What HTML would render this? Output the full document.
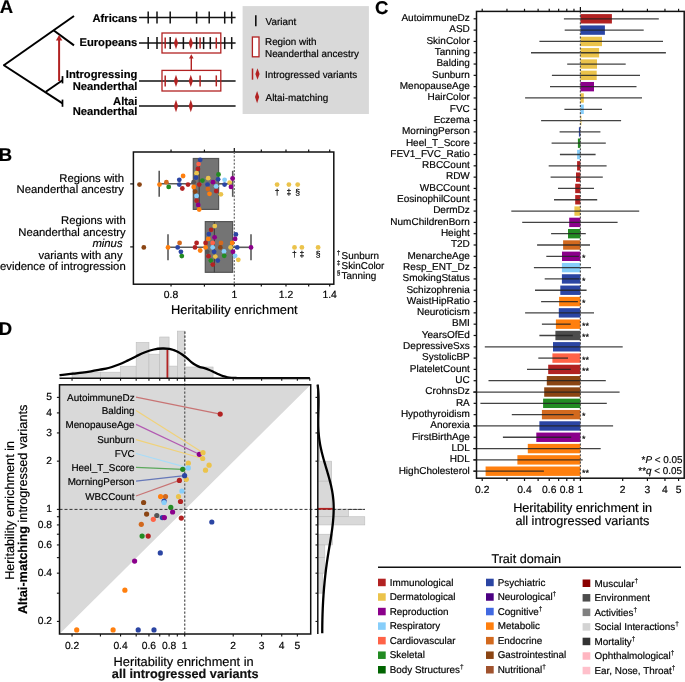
<!DOCTYPE html>
<html><head><meta charset="utf-8"><style>
html,body{margin:0;padding:0;background:#fff;width:685px;height:682px;overflow:hidden}
svg{display:block;font-family:"Liberation Sans",sans-serif;text-rendering:geometricPrecision;will-change:transform}
text{stroke:currentColor;stroke-width:0.18px}
</style></head><body>
<svg width="685" height="682" viewBox="0 0 685 682">
<text x="-0.30" y="13.20" font-size="18.5" text-anchor="start" font-weight="bold" font-style="normal" fill="#000" >A</text>
<line x1="3.50" y1="65.50" x2="74.00" y2="16.00" stroke="#000" stroke-width="2" />
<line x1="53.50" y1="30.30" x2="74.00" y2="45.40" stroke="#000" stroke-width="2" />
<line x1="3.50" y1="65.00" x2="62.50" y2="103.30" stroke="#000" stroke-width="2" />
<line x1="45.80" y1="91.80" x2="62.50" y2="80.20" stroke="#000" stroke-width="2" />
<line x1="62.50" y1="76.10" x2="62.50" y2="83.40" stroke="#000" stroke-width="1.7" />
<line x1="62.50" y1="99.60" x2="62.50" y2="106.80" stroke="#000" stroke-width="1.7" />
<line x1="59.10" y1="81.00" x2="59.10" y2="39.00" stroke="#b22222" stroke-width="2.0" />
<path d="M55.9 40.4 L59.1 35 L62.3 40.4 Z" fill="#b22222"/>
<text x="137.30" y="22.00" font-size="11.2" text-anchor="end" font-weight="bold" font-style="normal" fill="#000" >Africans</text>
<text x="137.30" y="45.80" font-size="11.2" text-anchor="end" font-weight="bold" font-style="normal" fill="#000" >Europeans</text>
<text x="137.30" y="78.20" font-size="11.2" text-anchor="end" font-weight="bold" font-style="normal" fill="#000" >Introgressing</text>
<text x="137.30" y="89.80" font-size="11.2" text-anchor="end" font-weight="bold" font-style="normal" fill="#000" >Neanderthal</text>
<text x="137.30" y="105.00" font-size="11.2" text-anchor="end" font-weight="bold" font-style="normal" fill="#000" >Altai</text>
<text x="137.30" y="114.70" font-size="11.2" text-anchor="end" font-weight="bold" font-style="normal" fill="#000" >Neanderthal</text>
<line x1="139.00" y1="17.60" x2="235.60" y2="17.60" stroke="#111" stroke-width="1.5" />
<line x1="139.00" y1="43.10" x2="235.60" y2="43.10" stroke="#111" stroke-width="1.5" />
<line x1="139.00" y1="80.90" x2="235.60" y2="80.90" stroke="#111" stroke-width="1.5" />
<line x1="139.00" y1="106.00" x2="235.60" y2="106.00" stroke="#111" stroke-width="1.5" />
<line x1="148.20" y1="11.60" x2="148.20" y2="23.60" stroke="#111" stroke-width="1.5" />
<line x1="157.00" y1="11.60" x2="157.00" y2="23.60" stroke="#111" stroke-width="1.5" />
<line x1="170.20" y1="11.60" x2="170.20" y2="23.60" stroke="#111" stroke-width="1.5" />
<line x1="196.60" y1="11.60" x2="196.60" y2="23.60" stroke="#111" stroke-width="1.5" />
<line x1="209.20" y1="11.60" x2="209.20" y2="23.60" stroke="#111" stroke-width="1.5" />
<line x1="224.70" y1="11.60" x2="224.70" y2="23.60" stroke="#111" stroke-width="1.5" />
<line x1="231.70" y1="11.60" x2="231.70" y2="23.60" stroke="#111" stroke-width="1.5" />
<line x1="148.20" y1="37.10" x2="148.20" y2="49.10" stroke="#111" stroke-width="1.5" />
<line x1="157.00" y1="37.10" x2="157.00" y2="49.10" stroke="#111" stroke-width="1.5" />
<line x1="170.20" y1="37.10" x2="170.20" y2="49.10" stroke="#111" stroke-width="1.5" />
<line x1="183.40" y1="37.10" x2="183.40" y2="49.10" stroke="#111" stroke-width="1.5" />
<line x1="196.60" y1="37.10" x2="196.60" y2="49.10" stroke="#111" stroke-width="1.5" />
<line x1="203.60" y1="37.10" x2="203.60" y2="49.10" stroke="#111" stroke-width="1.5" />
<line x1="210.30" y1="37.10" x2="210.30" y2="49.10" stroke="#111" stroke-width="1.5" />
<line x1="224.70" y1="37.10" x2="224.70" y2="49.10" stroke="#111" stroke-width="1.5" />
<line x1="231.70" y1="37.10" x2="231.70" y2="49.10" stroke="#111" stroke-width="1.5" />
<rect x="162" y="33" width="58.8" height="20" fill="none" stroke="#b22222" stroke-width="1.3"/>
<rect x="162" y="70.4" width="58.8" height="20.6" fill="none" stroke="#b22222" stroke-width="1.3"/>
<line x1="165.20" y1="37.60" x2="165.20" y2="48.60" stroke="#b22222" stroke-width="1.5" />
<line x1="200.10" y1="37.60" x2="200.10" y2="48.60" stroke="#b22222" stroke-width="1.5" />
<line x1="216.30" y1="37.60" x2="216.30" y2="48.60" stroke="#b22222" stroke-width="1.5" />
<path d="M176.00 36.90 L178.10 43.10 L176.00 49.30 L173.90 43.10Z" fill="#b22222"/>
<path d="M190.80 36.90 L192.90 43.10 L190.80 49.30 L188.70 43.10Z" fill="#b22222"/>
<line x1="165.20" y1="75.40" x2="165.20" y2="86.40" stroke="#b22222" stroke-width="1.5" />
<line x1="200.10" y1="75.40" x2="200.10" y2="86.40" stroke="#b22222" stroke-width="1.5" />
<line x1="216.30" y1="75.40" x2="216.30" y2="86.40" stroke="#b22222" stroke-width="1.5" />
<path d="M176.00 74.70 L178.10 80.90 L176.00 87.10 L173.90 80.90Z" fill="#b22222"/>
<path d="M190.80 74.70 L192.90 80.90 L190.80 87.10 L188.70 80.90Z" fill="#b22222"/>
<path d="M176.00 99.80 L178.10 106.00 L176.00 112.20 L173.90 106.00Z" fill="#b22222"/>
<path d="M190.80 99.80 L192.90 106.00 L190.80 112.20 L188.70 106.00Z" fill="#b22222"/>
<line x1="191.30" y1="70.40" x2="191.30" y2="57.50" stroke="#b22222" stroke-width="1.4" />
<path d="M189 58.6 L191.3 54.2 L193.6 58.6 Z" fill="#b22222"/>
<rect x="242.60" y="6.10" width="126.30" height="107.90" fill="#d9d9d9" />
<line x1="255.80" y1="15.30" x2="255.80" y2="26.20" stroke="#111" stroke-width="1.6" />
<text x="265.60" y="25.30" font-size="9.9" text-anchor="start" font-weight="normal" font-style="normal" fill="#000" >Variant</text>
<rect x="252.4" y="37" width="6.6" height="19.8" fill="#fff" stroke="#b22222" stroke-width="1.3"/>
<text x="265.00" y="44.60" font-size="9.9" text-anchor="start" font-weight="normal" font-style="normal" fill="#000" >Region with</text>
<text x="265.00" y="56.90" font-size="9.9" text-anchor="start" font-weight="normal" font-style="normal" fill="#000" >Neanderthal ancestry</text>
<line x1="252.50" y1="68.50" x2="252.50" y2="79.70" stroke="#b22222" stroke-width="1.5" />
<path d="M257.50 68.35 L259.60 74.10 L257.50 79.85 L255.40 74.10Z" fill="#b22222"/>
<text x="265.00" y="78.40" font-size="9.9" text-anchor="start" font-weight="normal" font-style="normal" fill="#000" >Introgressed variants</text>
<path d="M257.10 91.00 L259.20 97.10 L257.10 103.20 L255.00 97.10Z" fill="#b22222"/>
<text x="265.60" y="101.20" font-size="9.9" text-anchor="start" font-weight="normal" font-style="normal" fill="#000" >Altai-matching</text>
<text x="-1.30" y="160.80" font-size="18.5" text-anchor="start" font-weight="bold" font-style="normal" fill="#000" >B</text>
<text x="124.00" y="181.60" font-size="11.3" text-anchor="end" font-weight="normal" font-style="normal" fill="#000" >Regions with</text>
<text x="124.00" y="193.20" font-size="11.3" text-anchor="end" font-weight="normal" font-style="normal" fill="#000" >Neanderthal ancestry</text>
<text x="125.70" y="224.20" font-size="11.3" text-anchor="end" font-weight="normal" font-style="normal" fill="#000" >Regions with</text>
<text x="125.70" y="236.00" font-size="11.3" text-anchor="end" font-weight="normal" font-style="normal" fill="#000" >Neanderthal ancestry</text>
<text x="125.70" y="247.30" font-size="11.3" text-anchor="end" font-weight="normal" font-style="italic" fill="#000" >minus&#160;</text>
<text x="125.70" y="259.00" font-size="11.3" text-anchor="end" font-weight="normal" font-style="normal" fill="#000" >variants with any&#160;</text>
<text x="125.70" y="269.80" font-size="11.3" text-anchor="end" font-weight="normal" font-style="normal" fill="#000" >evidence of introgression</text>
<rect x="133.4" y="152" width="200.4" height="132.2" fill="none" stroke="#111" stroke-width="1.5"/>
<line x1="234.30" y1="152.00" x2="234.30" y2="284.00" stroke="#666" stroke-width="1.2" stroke-dasharray="2 1.6"/>
<line x1="171.04" y1="149.60" x2="171.04" y2="152.00" stroke="#111" stroke-width="1.2" />
<line x1="171.04" y1="284.00" x2="171.04" y2="286.60" stroke="#111" stroke-width="1.2" />
<line x1="204.43" y1="149.60" x2="204.43" y2="152.00" stroke="#111" stroke-width="1.2" />
<line x1="204.43" y1="284.00" x2="204.43" y2="286.60" stroke="#111" stroke-width="1.2" />
<line x1="234.30" y1="148.00" x2="234.30" y2="152.00" stroke="#111" stroke-width="1.2" />
<line x1="234.30" y1="284.00" x2="234.30" y2="286.60" stroke="#111" stroke-width="1.2" />
<line x1="261.32" y1="149.60" x2="261.32" y2="152.00" stroke="#111" stroke-width="1.2" />
<line x1="261.32" y1="284.00" x2="261.32" y2="286.60" stroke="#111" stroke-width="1.2" />
<line x1="285.99" y1="149.60" x2="285.99" y2="152.00" stroke="#111" stroke-width="1.2" />
<line x1="285.99" y1="284.00" x2="285.99" y2="286.60" stroke="#111" stroke-width="1.2" />
<line x1="308.68" y1="149.60" x2="308.68" y2="152.00" stroke="#111" stroke-width="1.2" />
<line x1="308.68" y1="284.00" x2="308.68" y2="286.60" stroke="#111" stroke-width="1.2" />
<line x1="329.69" y1="149.60" x2="329.69" y2="152.00" stroke="#111" stroke-width="1.2" />
<line x1="329.69" y1="284.00" x2="329.69" y2="286.60" stroke="#111" stroke-width="1.2" />
<line x1="130.20" y1="183.90" x2="133.40" y2="183.90" stroke="#111" stroke-width="1.2" />
<line x1="130.20" y1="246.90" x2="133.40" y2="246.90" stroke="#111" stroke-width="1.2" />
<text x="171.04" y="298.20" font-size="10.4" text-anchor="middle" font-weight="normal" font-style="normal" fill="#000" >0.8</text>
<text x="234.30" y="298.20" font-size="10.4" text-anchor="middle" font-weight="normal" font-style="normal" fill="#000" >1</text>
<text x="285.99" y="298.20" font-size="10.4" text-anchor="middle" font-weight="normal" font-style="normal" fill="#000" >1.2</text>
<text x="329.69" y="298.20" font-size="10.4" text-anchor="middle" font-weight="normal" font-style="normal" fill="#000" >1.4</text>
<text x="234.30" y="313.90" font-size="12.8" text-anchor="middle" font-weight="normal" font-style="normal" fill="#000" >Heritability enrichment</text>
<text x="336.80" y="255.00" font-size="6.6" text-anchor="start" font-weight="normal" font-style="normal" fill="#000" >&#8224;</text>
<text x="341.60" y="259.00" font-size="9.9" text-anchor="start" font-weight="normal" font-style="normal" fill="#000" >Sunburn</text>
<text x="336.80" y="264.80" font-size="6.6" text-anchor="start" font-weight="normal" font-style="normal" fill="#000" >&#8225;</text>
<text x="341.60" y="268.80" font-size="9.9" text-anchor="start" font-weight="normal" font-style="normal" fill="#000" >SkinColor</text>
<text x="336.80" y="274.70" font-size="6.6" text-anchor="start" font-weight="normal" font-style="normal" fill="#000" >&#167;</text>
<text x="341.60" y="278.70" font-size="9.9" text-anchor="start" font-weight="normal" font-style="normal" fill="#000" >Tanning</text>
<rect x="193.30" y="158.50" width="25.30" height="50.90" fill="#747474" stroke="#555" stroke-width="1.2"/>
<line x1="199.20" y1="158.50" x2="199.20" y2="209.40" stroke="#444" stroke-width="1.2" />
<line x1="159.20" y1="183.80" x2="193.30" y2="183.80" stroke="#5a5a5a" stroke-width="1.6" />
<line x1="218.60" y1="183.80" x2="232.70" y2="183.80" stroke="#5a5a5a" stroke-width="1.6" />
<line x1="159.20" y1="170.80" x2="159.20" y2="196.80" stroke="#5a5a5a" stroke-width="1.6" />
<line x1="232.70" y1="170.80" x2="232.70" y2="196.80" stroke="#5a5a5a" stroke-width="1.6" />
<rect x="205.30" y="221.60" width="27.30" height="50.70" fill="#747474" stroke="#555" stroke-width="1.2"/>
<line x1="214.40" y1="221.60" x2="214.40" y2="272.30" stroke="#444" stroke-width="1.2" />
<line x1="168.00" y1="247.30" x2="205.30" y2="247.30" stroke="#5a5a5a" stroke-width="1.6" />
<line x1="232.60" y1="247.30" x2="251.00" y2="247.30" stroke="#5a5a5a" stroke-width="1.6" />
<line x1="168.00" y1="234.30" x2="168.00" y2="260.30" stroke="#5a5a5a" stroke-width="1.6" />
<line x1="251.00" y1="234.30" x2="251.00" y2="260.30" stroke="#5a5a5a" stroke-width="1.6" />
<circle cx="139.50" cy="184.60" r="2.4" fill="#8b4513"/>
<circle cx="159.50" cy="184.60" r="2.4" fill="#ff7f0e"/>
<circle cx="166.40" cy="182.20" r="2.4" fill="#d2691e"/>
<circle cx="168.70" cy="186.90" r="2.4" fill="#228b22"/>
<circle cx="179.30" cy="179.80" r="2.4" fill="#2b45a3"/>
<circle cx="183.10" cy="176.00" r="2.4" fill="#ff7f0e"/>
<circle cx="179.30" cy="184.60" r="2.4" fill="#2b45a3"/>
<circle cx="182.30" cy="188.50" r="2.4" fill="#b22222"/>
<circle cx="188.00" cy="184.60" r="2.4" fill="#b22222"/>
<circle cx="193.60" cy="182.20" r="2.4" fill="#555555"/>
<circle cx="193.70" cy="187.00" r="2.4" fill="#ff7f0e"/>
<circle cx="195.20" cy="191.70" r="2.4" fill="#8b4513"/>
<circle cx="196.60" cy="196.00" r="2.4" fill="#87cefa"/>
<circle cx="196.60" cy="200.70" r="2.4" fill="#b22222"/>
<circle cx="198.20" cy="205.00" r="2.4" fill="#8b008b"/>
<circle cx="199.20" cy="209.50" r="2.4" fill="#ff7f0e"/>
<circle cx="200.20" cy="159.80" r="2.4" fill="#2b45a3"/>
<circle cx="198.60" cy="164.10" r="2.4" fill="#ff6347"/>
<circle cx="197.90" cy="168.90" r="2.4" fill="#b22222"/>
<circle cx="196.60" cy="173.20" r="2.4" fill="#ebc34b"/>
<circle cx="196.00" cy="177.70" r="2.4" fill="#2b45a3"/>
<circle cx="199.20" cy="184.60" r="2.4" fill="#b22222"/>
<circle cx="202.40" cy="180.60" r="2.4" fill="#228b22"/>
<circle cx="208.20" cy="178.20" r="2.4" fill="#ebc34b"/>
<circle cx="207.50" cy="184.60" r="2.4" fill="#2b45a3"/>
<circle cx="207.90" cy="189.00" r="2.4" fill="#d2691e"/>
<circle cx="209.50" cy="193.80" r="2.4" fill="#ff7f0e"/>
<circle cx="213.00" cy="182.20" r="2.4" fill="#8b008b"/>
<circle cx="218.50" cy="174.50" r="2.4" fill="#228b22"/>
<circle cx="218.10" cy="179.30" r="2.4" fill="#2b45a3"/>
<circle cx="216.20" cy="186.30" r="2.4" fill="#87cefa"/>
<circle cx="216.20" cy="191.10" r="2.4" fill="#b22222"/>
<circle cx="220.90" cy="194.30" r="2.4" fill="#ebc34b"/>
<circle cx="224.60" cy="179.80" r="2.4" fill="#87cefa"/>
<circle cx="224.60" cy="184.60" r="2.4" fill="#2b45a3"/>
<circle cx="229.70" cy="182.60" r="2.4" fill="#ebc34b"/>
<circle cx="232.60" cy="178.50" r="2.4" fill="#8b008b"/>
<circle cx="231.00" cy="186.90" r="2.4" fill="#8b008b"/>
<circle cx="277.10" cy="184.60" r="2.4" fill="#ebc34b"/>
<circle cx="288.90" cy="184.60" r="2.4" fill="#ebc34b"/>
<circle cx="297.70" cy="184.60" r="2.4" fill="#ebc34b"/>
<circle cx="143.80" cy="247.40" r="2.4" fill="#8b4513"/>
<circle cx="168.00" cy="247.40" r="2.4" fill="#ff7f0e"/>
<circle cx="179.60" cy="242.90" r="2.4" fill="#d2691e"/>
<circle cx="177.70" cy="247.40" r="2.4" fill="#2b45a3"/>
<circle cx="180.90" cy="251.80" r="2.4" fill="#2b45a3"/>
<circle cx="181.80" cy="256.10" r="2.4" fill="#228b22"/>
<circle cx="196.60" cy="242.90" r="2.4" fill="#b22222"/>
<circle cx="195.00" cy="247.40" r="2.4" fill="#b22222"/>
<circle cx="200.20" cy="250.50" r="2.4" fill="#ff7f0e"/>
<circle cx="205.60" cy="242.90" r="2.4" fill="#b22222"/>
<circle cx="205.60" cy="247.40" r="2.4" fill="#ff7f0e"/>
<circle cx="207.40" cy="251.80" r="2.4" fill="#555555"/>
<circle cx="208.30" cy="238.90" r="2.4" fill="#ff7f0e"/>
<circle cx="208.80" cy="234.10" r="2.4" fill="#2b45a3"/>
<circle cx="211.10" cy="229.80" r="2.4" fill="#b22222"/>
<circle cx="214.80" cy="226.10" r="2.4" fill="#ebc34b"/>
<circle cx="214.60" cy="237.30" r="2.4" fill="#8b008b"/>
<circle cx="212.70" cy="242.90" r="2.4" fill="#ff6347"/>
<circle cx="212.70" cy="247.40" r="2.4" fill="#87cefa"/>
<circle cx="214.10" cy="251.80" r="2.4" fill="#2b45a3"/>
<circle cx="215.30" cy="256.60" r="2.4" fill="#ebc34b"/>
<circle cx="208.50" cy="256.20" r="2.4" fill="#b22222"/>
<circle cx="210.80" cy="260.60" r="2.4" fill="#228b22"/>
<circle cx="217.80" cy="260.60" r="2.4" fill="#2b45a3"/>
<circle cx="212.80" cy="264.60" r="2.4" fill="#b22222"/>
<circle cx="221.00" cy="242.90" r="2.4" fill="#d2691e"/>
<circle cx="220.30" cy="247.40" r="2.4" fill="#8b4513"/>
<circle cx="224.00" cy="251.40" r="2.4" fill="#87cefa"/>
<circle cx="224.20" cy="255.80" r="2.4" fill="#228b22"/>
<circle cx="232.20" cy="242.90" r="2.4" fill="#ff7f0e"/>
<circle cx="230.60" cy="247.40" r="2.4" fill="#ebc34b"/>
<circle cx="233.00" cy="251.80" r="2.4" fill="#8b008b"/>
<circle cx="235.10" cy="255.80" r="2.4" fill="#87cefa"/>
<circle cx="235.90" cy="234.40" r="2.4" fill="#2b45a3"/>
<circle cx="235.10" cy="238.90" r="2.4" fill="#8b008b"/>
<circle cx="237.20" cy="247.40" r="2.4" fill="#2b45a3"/>
<circle cx="238.30" cy="259.80" r="2.4" fill="#ebc34b"/>
<circle cx="251.00" cy="247.40" r="2.4" fill="#8b008b"/>
<circle cx="294.50" cy="247.40" r="2.4" fill="#ebc34b"/>
<circle cx="301.90" cy="247.40" r="2.4" fill="#ebc34b"/>
<circle cx="318.10" cy="247.40" r="2.4" fill="#ebc34b"/>
<text x="277.10" y="194.80" font-size="8.6" text-anchor="middle" font-weight="normal" font-style="normal" fill="#000" >&#8224;</text>
<text x="288.90" y="194.80" font-size="8.6" text-anchor="middle" font-weight="normal" font-style="normal" fill="#000" >&#8225;</text>
<text x="297.70" y="194.80" font-size="8.6" text-anchor="middle" font-weight="normal" font-style="normal" fill="#000" >&#167;</text>
<text x="294.50" y="257.40" font-size="8.6" text-anchor="middle" font-weight="normal" font-style="normal" fill="#000" >&#8224;</text>
<text x="301.90" y="257.40" font-size="8.6" text-anchor="middle" font-weight="normal" font-style="normal" fill="#000" >&#8225;</text>
<text x="318.10" y="257.40" font-size="8.6" text-anchor="middle" font-weight="normal" font-style="normal" fill="#000" >&#167;</text>
<text x="375.00" y="13.50" font-size="18.5" text-anchor="start" font-weight="bold" font-style="normal" fill="#000" >C</text>
<rect x="580.40" y="14.10" width="31.50" height="9.40" fill="#b22222" />
<rect x="580.40" y="25.41" width="24.50" height="9.40" fill="#2b45a3" />
<rect x="580.40" y="36.72" width="21.60" height="9.40" fill="#ebc34b" />
<rect x="580.40" y="48.03" width="18.70" height="9.40" fill="#ebc34b" />
<rect x="580.40" y="59.34" width="16.60" height="9.40" fill="#ebc34b" />
<rect x="580.40" y="70.65" width="16.30" height="9.40" fill="#ebc34b" />
<rect x="580.40" y="81.96" width="13.60" height="9.40" fill="#8b008b" />
<rect x="580.40" y="93.27" width="3.40" height="9.40" fill="#ebc34b" />
<rect x="580.40" y="104.58" width="3.40" height="9.40" fill="#87cefa" />
<rect x="580.40" y="115.89" width="1.00" height="9.40" fill="#ebc34b" />
<rect x="578.90" y="127.20" width="1.50" height="9.40" fill="#2b45a3" />
<rect x="577.90" y="138.51" width="2.50" height="9.40" fill="#228b22" />
<rect x="577.10" y="149.82" width="3.30" height="9.40" fill="#87cefa" />
<rect x="577.10" y="161.13" width="3.30" height="9.40" fill="#b22222" />
<rect x="576.00" y="172.44" width="4.40" height="9.40" fill="#b22222" />
<rect x="575.20" y="183.75" width="5.20" height="9.40" fill="#b22222" />
<rect x="575.20" y="195.06" width="5.20" height="9.40" fill="#b22222" />
<rect x="574.40" y="206.37" width="6.00" height="9.40" fill="#ebc34b" />
<rect x="569.20" y="217.68" width="11.20" height="9.40" fill="#8b008b" />
<rect x="568.00" y="228.99" width="12.40" height="9.40" fill="#228b22" />
<rect x="563.10" y="240.30" width="17.30" height="9.40" fill="#d2691e" />
<rect x="562.00" y="251.61" width="18.40" height="9.40" fill="#8b008b" />
<rect x="561.90" y="262.92" width="18.50" height="9.40" fill="#87cefa" />
<rect x="561.90" y="274.23" width="18.50" height="9.40" fill="#2b45a3" />
<rect x="560.30" y="285.54" width="20.10" height="9.40" fill="#2b45a3" />
<rect x="559.10" y="296.85" width="21.30" height="9.40" fill="#ff7f0e" />
<rect x="558.80" y="308.16" width="21.60" height="9.40" fill="#2b45a3" />
<rect x="555.90" y="319.47" width="24.50" height="9.40" fill="#ff7f0e" />
<rect x="555.40" y="330.78" width="25.00" height="9.40" fill="#4d4d4d" />
<rect x="553.00" y="342.09" width="27.40" height="9.40" fill="#2b45a3" />
<rect x="552.40" y="353.40" width="28.00" height="9.40" fill="#ff6347" />
<rect x="548.20" y="364.71" width="32.20" height="9.40" fill="#b22222" />
<rect x="546.80" y="376.02" width="33.60" height="9.40" fill="#8b4513" />
<rect x="544.20" y="387.33" width="36.20" height="9.40" fill="#8b4513" />
<rect x="543.10" y="398.64" width="37.30" height="9.40" fill="#228b22" />
<rect x="541.90" y="409.95" width="38.50" height="9.40" fill="#d2691e" />
<rect x="539.40" y="421.26" width="41.00" height="9.40" fill="#2b45a3" />
<rect x="536.30" y="432.57" width="44.10" height="9.40" fill="#8b008b" />
<rect x="527.80" y="443.88" width="52.60" height="9.40" fill="#ff7f0e" />
<rect x="517.40" y="455.19" width="63.00" height="9.40" fill="#ff7f0e" />
<rect x="485.60" y="466.50" width="94.80" height="9.40" fill="#ff7f0e" />
<line x1="563.90" y1="18.80" x2="658.80" y2="18.80" stroke="#222" stroke-width="1.3" stroke-opacity="0.85"/>
<text x="469.80" y="21.10" font-size="10.0" text-anchor="end" font-weight="normal" font-style="normal" fill="#000" >AutoimmuneDz</text>
<line x1="473.60" y1="18.80" x2="476.50" y2="18.80" stroke="#111" stroke-width="1.2" />
<line x1="564.70" y1="30.11" x2="643.70" y2="30.11" stroke="#222" stroke-width="1.3" stroke-opacity="0.85"/>
<text x="469.80" y="32.41" font-size="10.0" text-anchor="end" font-weight="normal" font-style="normal" fill="#000" >ASD</text>
<line x1="473.60" y1="30.11" x2="476.50" y2="30.11" stroke="#111" stroke-width="1.2" />
<line x1="539.40" y1="41.42" x2="663.00" y2="41.42" stroke="#222" stroke-width="1.3" stroke-opacity="0.85"/>
<text x="469.80" y="43.72" font-size="10.0" text-anchor="end" font-weight="normal" font-style="normal" fill="#000" >SkinColor</text>
<line x1="473.60" y1="41.42" x2="476.50" y2="41.42" stroke="#111" stroke-width="1.2" />
<line x1="531.00" y1="52.73" x2="665.90" y2="52.73" stroke="#222" stroke-width="1.3" stroke-opacity="0.85"/>
<text x="469.80" y="55.03" font-size="10.0" text-anchor="end" font-weight="normal" font-style="normal" fill="#000" >Tanning</text>
<line x1="473.60" y1="52.73" x2="476.50" y2="52.73" stroke="#111" stroke-width="1.2" />
<line x1="567.20" y1="64.04" x2="625.70" y2="64.04" stroke="#222" stroke-width="1.3" stroke-opacity="0.85"/>
<text x="469.80" y="66.34" font-size="10.0" text-anchor="end" font-weight="normal" font-style="normal" fill="#000" >Balding</text>
<line x1="473.60" y1="64.04" x2="476.50" y2="64.04" stroke="#111" stroke-width="1.2" />
<line x1="551.90" y1="75.35" x2="640.00" y2="75.35" stroke="#222" stroke-width="1.3" stroke-opacity="0.85"/>
<text x="469.80" y="77.65" font-size="10.0" text-anchor="end" font-weight="normal" font-style="normal" fill="#000" >Sunburn</text>
<line x1="473.60" y1="75.35" x2="476.50" y2="75.35" stroke="#111" stroke-width="1.2" />
<line x1="550.00" y1="86.66" x2="636.50" y2="86.66" stroke="#222" stroke-width="1.3" stroke-opacity="0.85"/>
<text x="469.80" y="88.96" font-size="10.0" text-anchor="end" font-weight="normal" font-style="normal" fill="#000" >MenopauseAge</text>
<line x1="473.60" y1="86.66" x2="476.50" y2="86.66" stroke="#111" stroke-width="1.2" />
<line x1="525.10" y1="97.97" x2="642.00" y2="97.97" stroke="#222" stroke-width="1.3" stroke-opacity="0.85"/>
<text x="469.80" y="100.27" font-size="10.0" text-anchor="end" font-weight="normal" font-style="normal" fill="#000" >HairColor</text>
<line x1="473.60" y1="97.97" x2="476.50" y2="97.97" stroke="#111" stroke-width="1.2" />
<line x1="564.40" y1="109.28" x2="602.00" y2="109.28" stroke="#222" stroke-width="1.3" stroke-opacity="0.85"/>
<text x="469.80" y="111.58" font-size="10.0" text-anchor="end" font-weight="normal" font-style="normal" fill="#000" >FVC</text>
<line x1="473.60" y1="109.28" x2="476.50" y2="109.28" stroke="#111" stroke-width="1.2" />
<line x1="541.10" y1="120.59" x2="621.10" y2="120.59" stroke="#222" stroke-width="1.3" stroke-opacity="0.85"/>
<text x="469.80" y="122.89" font-size="10.0" text-anchor="end" font-weight="normal" font-style="normal" fill="#000" >Eczema</text>
<line x1="473.60" y1="120.59" x2="476.50" y2="120.59" stroke="#111" stroke-width="1.2" />
<line x1="559.60" y1="131.90" x2="600.40" y2="131.90" stroke="#222" stroke-width="1.3" stroke-opacity="0.85"/>
<text x="469.80" y="134.20" font-size="10.0" text-anchor="end" font-weight="normal" font-style="normal" fill="#000" >MorningPerson</text>
<line x1="473.60" y1="131.90" x2="476.50" y2="131.90" stroke="#111" stroke-width="1.2" />
<line x1="551.60" y1="143.21" x2="605.80" y2="143.21" stroke="#222" stroke-width="1.3" stroke-opacity="0.85"/>
<text x="469.80" y="145.51" font-size="10.0" text-anchor="end" font-weight="normal" font-style="normal" fill="#000" >Heel_T_Score</text>
<line x1="473.60" y1="143.21" x2="476.50" y2="143.21" stroke="#111" stroke-width="1.2" />
<line x1="559.90" y1="154.52" x2="595.60" y2="154.52" stroke="#222" stroke-width="1.3" stroke-opacity="0.85"/>
<text x="469.80" y="156.82" font-size="10.0" text-anchor="end" font-weight="normal" font-style="normal" fill="#000" >FEV1_FVC_Ratio</text>
<line x1="473.60" y1="154.52" x2="476.50" y2="154.52" stroke="#111" stroke-width="1.2" />
<line x1="548.70" y1="165.83" x2="606.60" y2="165.83" stroke="#222" stroke-width="1.3" stroke-opacity="0.85"/>
<text x="469.80" y="168.13" font-size="10.0" text-anchor="end" font-weight="normal" font-style="normal" fill="#000" >RBCCount</text>
<line x1="473.60" y1="165.83" x2="476.50" y2="165.83" stroke="#111" stroke-width="1.2" />
<line x1="550.60" y1="177.14" x2="602.80" y2="177.14" stroke="#222" stroke-width="1.3" stroke-opacity="0.85"/>
<text x="469.80" y="179.44" font-size="10.0" text-anchor="end" font-weight="normal" font-style="normal" fill="#000" >RDW</text>
<line x1="473.60" y1="177.14" x2="476.50" y2="177.14" stroke="#111" stroke-width="1.2" />
<line x1="558.00" y1="188.45" x2="594.00" y2="188.45" stroke="#222" stroke-width="1.3" stroke-opacity="0.85"/>
<text x="469.80" y="190.75" font-size="10.0" text-anchor="end" font-weight="normal" font-style="normal" fill="#000" >WBCCount</text>
<line x1="473.60" y1="188.45" x2="476.50" y2="188.45" stroke="#111" stroke-width="1.2" />
<line x1="554.00" y1="199.76" x2="597.20" y2="199.76" stroke="#222" stroke-width="1.3" stroke-opacity="0.85"/>
<text x="469.80" y="202.06" font-size="10.0" text-anchor="end" font-weight="normal" font-style="normal" fill="#000" >EosinophilCount</text>
<line x1="473.60" y1="199.76" x2="476.50" y2="199.76" stroke="#111" stroke-width="1.2" />
<line x1="511.30" y1="211.07" x2="639.20" y2="211.07" stroke="#222" stroke-width="1.3" stroke-opacity="0.85"/>
<text x="469.80" y="213.37" font-size="10.0" text-anchor="end" font-weight="normal" font-style="normal" fill="#000" >DermDz</text>
<line x1="473.60" y1="211.07" x2="476.50" y2="211.07" stroke="#111" stroke-width="1.2" />
<line x1="522.20" y1="222.38" x2="617.60" y2="222.38" stroke="#222" stroke-width="1.3" stroke-opacity="0.85"/>
<text x="469.80" y="224.68" font-size="10.0" text-anchor="end" font-weight="normal" font-style="normal" fill="#000" >NumChildrenBorn</text>
<line x1="473.60" y1="222.38" x2="476.50" y2="222.38" stroke="#111" stroke-width="1.2" />
<line x1="551.10" y1="233.69" x2="585.80" y2="233.69" stroke="#222" stroke-width="1.3" stroke-opacity="0.85"/>
<text x="469.80" y="235.99" font-size="10.0" text-anchor="end" font-weight="normal" font-style="normal" fill="#000" >Height</text>
<line x1="473.60" y1="233.69" x2="476.50" y2="233.69" stroke="#111" stroke-width="1.2" />
<line x1="537.10" y1="245.00" x2="590.00" y2="245.00" stroke="#222" stroke-width="1.3" stroke-opacity="0.85"/>
<text x="469.80" y="247.30" font-size="10.0" text-anchor="end" font-weight="normal" font-style="normal" fill="#000" >T2D</text>
<line x1="473.60" y1="245.00" x2="476.50" y2="245.00" stroke="#111" stroke-width="1.2" />
<line x1="546.30" y1="256.31" x2="578.90" y2="256.31" stroke="#222" stroke-width="1.3" stroke-opacity="0.85"/>
<text x="469.80" y="258.61" font-size="10.0" text-anchor="end" font-weight="normal" font-style="normal" fill="#000" >MenarcheAge</text>
<line x1="473.60" y1="256.31" x2="476.50" y2="256.31" stroke="#111" stroke-width="1.2" />
<text x="582.00" y="261.11" font-size="9.0" text-anchor="start" font-weight="normal" font-style="normal" fill="#000" >*</text>
<line x1="533.90" y1="267.62" x2="591.00" y2="267.62" stroke="#222" stroke-width="1.3" stroke-opacity="0.85"/>
<text x="469.80" y="269.92" font-size="10.0" text-anchor="end" font-weight="normal" font-style="normal" fill="#000" >Resp_ENT_Dz</text>
<line x1="473.60" y1="267.62" x2="476.50" y2="267.62" stroke="#111" stroke-width="1.2" />
<line x1="544.70" y1="278.93" x2="579.50" y2="278.93" stroke="#222" stroke-width="1.3" stroke-opacity="0.85"/>
<text x="469.80" y="281.23" font-size="10.0" text-anchor="end" font-weight="normal" font-style="normal" fill="#000" >SmokingStatus</text>
<line x1="473.60" y1="278.93" x2="476.50" y2="278.93" stroke="#111" stroke-width="1.2" />
<text x="582.00" y="283.73" font-size="9.0" text-anchor="start" font-weight="normal" font-style="normal" fill="#000" >*</text>
<line x1="535.00" y1="290.24" x2="586.60" y2="290.24" stroke="#222" stroke-width="1.3" stroke-opacity="0.85"/>
<text x="469.80" y="292.54" font-size="10.0" text-anchor="end" font-weight="normal" font-style="normal" fill="#000" >Schizophrenia</text>
<line x1="473.60" y1="290.24" x2="476.50" y2="290.24" stroke="#111" stroke-width="1.2" />
<line x1="541.10" y1="301.55" x2="577.90" y2="301.55" stroke="#222" stroke-width="1.3" stroke-opacity="0.85"/>
<text x="469.80" y="303.85" font-size="10.0" text-anchor="end" font-weight="normal" font-style="normal" fill="#000" >WaistHipRatio</text>
<line x1="473.60" y1="301.55" x2="476.50" y2="301.55" stroke="#111" stroke-width="1.2" />
<text x="582.00" y="306.35" font-size="9.0" text-anchor="start" font-weight="normal" font-style="normal" fill="#000" >*</text>
<line x1="525.10" y1="312.86" x2="594.00" y2="312.86" stroke="#222" stroke-width="1.3" stroke-opacity="0.85"/>
<text x="469.80" y="315.16" font-size="10.0" text-anchor="end" font-weight="normal" font-style="normal" fill="#000" >Neuroticism</text>
<line x1="473.60" y1="312.86" x2="476.50" y2="312.86" stroke="#111" stroke-width="1.2" />
<line x1="541.90" y1="324.17" x2="570.70" y2="324.17" stroke="#222" stroke-width="1.3" stroke-opacity="0.85"/>
<text x="469.80" y="326.47" font-size="10.0" text-anchor="end" font-weight="normal" font-style="normal" fill="#000" >BMI</text>
<line x1="473.60" y1="324.17" x2="476.50" y2="324.17" stroke="#111" stroke-width="1.2" />
<text x="582.00" y="328.97" font-size="9.0" text-anchor="start" font-weight="normal" font-style="normal" fill="#000" >**</text>
<line x1="539.40" y1="335.48" x2="572.80" y2="335.48" stroke="#222" stroke-width="1.3" stroke-opacity="0.85"/>
<text x="469.80" y="337.78" font-size="10.0" text-anchor="end" font-weight="normal" font-style="normal" fill="#000" >YearsOfEd</text>
<line x1="473.60" y1="335.48" x2="476.50" y2="335.48" stroke="#111" stroke-width="1.2" />
<text x="582.00" y="340.28" font-size="9.0" text-anchor="start" font-weight="normal" font-style="normal" fill="#000" >**</text>
<line x1="484.80" y1="346.79" x2="622.70" y2="346.79" stroke="#222" stroke-width="1.3" stroke-opacity="0.85"/>
<text x="469.80" y="349.09" font-size="10.0" text-anchor="end" font-weight="normal" font-style="normal" fill="#000" >DepressiveSxs</text>
<line x1="473.60" y1="346.79" x2="476.50" y2="346.79" stroke="#111" stroke-width="1.2" />
<line x1="538.30" y1="358.10" x2="568.00" y2="358.10" stroke="#222" stroke-width="1.3" stroke-opacity="0.85"/>
<text x="469.80" y="360.40" font-size="10.0" text-anchor="end" font-weight="normal" font-style="normal" fill="#000" >SystolicBP</text>
<line x1="473.60" y1="358.10" x2="476.50" y2="358.10" stroke="#111" stroke-width="1.2" />
<text x="582.00" y="362.90" font-size="9.0" text-anchor="start" font-weight="normal" font-style="normal" fill="#000" >**</text>
<line x1="527.00" y1="369.41" x2="570.70" y2="369.41" stroke="#222" stroke-width="1.3" stroke-opacity="0.85"/>
<text x="469.80" y="371.71" font-size="10.0" text-anchor="end" font-weight="normal" font-style="normal" fill="#000" >PlateletCount</text>
<line x1="473.60" y1="369.41" x2="476.50" y2="369.41" stroke="#111" stroke-width="1.2" />
<text x="582.00" y="374.21" font-size="9.0" text-anchor="start" font-weight="normal" font-style="normal" fill="#000" >**</text>
<line x1="488.50" y1="380.72" x2="605.80" y2="380.72" stroke="#222" stroke-width="1.3" stroke-opacity="0.85"/>
<text x="469.80" y="383.02" font-size="10.0" text-anchor="end" font-weight="normal" font-style="normal" fill="#000" >UC</text>
<line x1="473.60" y1="380.72" x2="476.50" y2="380.72" stroke="#111" stroke-width="1.2" />
<line x1="473.20" y1="392.03" x2="619.60" y2="392.03" stroke="#222" stroke-width="1.3" stroke-opacity="0.85"/>
<text x="469.80" y="394.33" font-size="10.0" text-anchor="end" font-weight="normal" font-style="normal" fill="#000" >CrohnsDz</text>
<line x1="473.60" y1="392.03" x2="476.50" y2="392.03" stroke="#111" stroke-width="1.2" />
<line x1="480.40" y1="403.34" x2="606.80" y2="403.34" stroke="#222" stroke-width="1.3" stroke-opacity="0.85"/>
<text x="469.80" y="405.64" font-size="10.0" text-anchor="end" font-weight="normal" font-style="normal" fill="#000" >RA</text>
<line x1="473.60" y1="403.34" x2="476.50" y2="403.34" stroke="#111" stroke-width="1.2" />
<line x1="511.80" y1="414.65" x2="573.60" y2="414.65" stroke="#222" stroke-width="1.3" stroke-opacity="0.85"/>
<text x="469.80" y="416.95" font-size="10.0" text-anchor="end" font-weight="normal" font-style="normal" fill="#000" >Hypothyroidism</text>
<line x1="473.60" y1="414.65" x2="476.50" y2="414.65" stroke="#111" stroke-width="1.2" />
<text x="582.00" y="419.45" font-size="9.0" text-anchor="start" font-weight="normal" font-style="normal" fill="#000" >*</text>
<line x1="473.20" y1="425.96" x2="613.10" y2="425.96" stroke="#222" stroke-width="1.3" stroke-opacity="0.85"/>
<text x="469.80" y="428.26" font-size="10.0" text-anchor="end" font-weight="normal" font-style="normal" fill="#000" >Anorexia</text>
<line x1="473.60" y1="425.96" x2="476.50" y2="425.96" stroke="#111" stroke-width="1.2" />
<line x1="502.90" y1="437.27" x2="571.20" y2="437.27" stroke="#222" stroke-width="1.3" stroke-opacity="0.85"/>
<text x="469.80" y="439.57" font-size="10.0" text-anchor="end" font-weight="normal" font-style="normal" fill="#000" >FirstBirthAge</text>
<line x1="473.60" y1="437.27" x2="476.50" y2="437.27" stroke="#111" stroke-width="1.2" />
<text x="582.00" y="442.07" font-size="9.0" text-anchor="start" font-weight="normal" font-style="normal" fill="#000" >*</text>
<line x1="473.20" y1="448.58" x2="600.70" y2="448.58" stroke="#222" stroke-width="1.3" stroke-opacity="0.85"/>
<text x="469.80" y="450.88" font-size="10.0" text-anchor="end" font-weight="normal" font-style="normal" fill="#000" >LDL</text>
<line x1="473.60" y1="448.58" x2="476.50" y2="448.58" stroke="#111" stroke-width="1.2" />
<line x1="473.20" y1="459.89" x2="582.70" y2="459.89" stroke="#222" stroke-width="1.3" stroke-opacity="0.85"/>
<text x="469.80" y="462.19" font-size="10.0" text-anchor="end" font-weight="normal" font-style="normal" fill="#000" >HDL</text>
<line x1="473.60" y1="459.89" x2="476.50" y2="459.89" stroke="#111" stroke-width="1.2" />
<line x1="473.20" y1="471.20" x2="543.90" y2="471.20" stroke="#222" stroke-width="1.3" stroke-opacity="0.85"/>
<text x="469.80" y="473.50" font-size="10.0" text-anchor="end" font-weight="normal" font-style="normal" fill="#000" >HighCholesterol</text>
<line x1="473.60" y1="471.20" x2="476.50" y2="471.20" stroke="#111" stroke-width="1.2" />
<text x="582.00" y="476.00" font-size="9.0" text-anchor="start" font-weight="normal" font-style="normal" fill="#000" >**</text>
<line x1="580.40" y1="11.40" x2="580.40" y2="478.20" stroke="#555" stroke-width="1.2" stroke-dasharray="2 1.6"/>
<rect x="476.5" y="11.4" width="207.70000000000005" height="466.8" fill="none" stroke="#111" stroke-width="1.5"/>
<line x1="482.22" y1="8.80" x2="482.22" y2="11.40" stroke="#111" stroke-width="1.2" />
<line x1="482.22" y1="478.20" x2="482.22" y2="481.00" stroke="#111" stroke-width="1.2" />
<line x1="506.96" y1="8.80" x2="506.96" y2="11.40" stroke="#111" stroke-width="1.2" />
<line x1="506.96" y1="478.20" x2="506.96" y2="481.00" stroke="#111" stroke-width="1.2" />
<line x1="524.51" y1="8.80" x2="524.51" y2="11.40" stroke="#111" stroke-width="1.2" />
<line x1="524.51" y1="478.20" x2="524.51" y2="481.00" stroke="#111" stroke-width="1.2" />
<line x1="538.12" y1="8.80" x2="538.12" y2="11.40" stroke="#111" stroke-width="1.2" />
<line x1="538.12" y1="478.20" x2="538.12" y2="481.00" stroke="#111" stroke-width="1.2" />
<line x1="549.24" y1="8.80" x2="549.24" y2="11.40" stroke="#111" stroke-width="1.2" />
<line x1="549.24" y1="478.20" x2="549.24" y2="481.00" stroke="#111" stroke-width="1.2" />
<line x1="558.64" y1="8.80" x2="558.64" y2="11.40" stroke="#111" stroke-width="1.2" />
<line x1="558.64" y1="478.20" x2="558.64" y2="481.00" stroke="#111" stroke-width="1.2" />
<line x1="566.79" y1="8.80" x2="566.79" y2="11.40" stroke="#111" stroke-width="1.2" />
<line x1="566.79" y1="478.20" x2="566.79" y2="481.00" stroke="#111" stroke-width="1.2" />
<line x1="573.97" y1="8.80" x2="573.97" y2="11.40" stroke="#111" stroke-width="1.2" />
<line x1="573.97" y1="478.20" x2="573.97" y2="481.00" stroke="#111" stroke-width="1.2" />
<line x1="580.40" y1="7.10" x2="580.40" y2="11.40" stroke="#111" stroke-width="1.2" />
<line x1="580.40" y1="478.20" x2="580.40" y2="481.00" stroke="#111" stroke-width="1.2" />
<line x1="622.68" y1="8.80" x2="622.68" y2="11.40" stroke="#111" stroke-width="1.2" />
<line x1="622.68" y1="478.20" x2="622.68" y2="481.00" stroke="#111" stroke-width="1.2" />
<line x1="647.42" y1="8.80" x2="647.42" y2="11.40" stroke="#111" stroke-width="1.2" />
<line x1="647.42" y1="478.20" x2="647.42" y2="481.00" stroke="#111" stroke-width="1.2" />
<line x1="664.96" y1="8.80" x2="664.96" y2="11.40" stroke="#111" stroke-width="1.2" />
<line x1="664.96" y1="478.20" x2="664.96" y2="481.00" stroke="#111" stroke-width="1.2" />
<line x1="678.58" y1="8.80" x2="678.58" y2="11.40" stroke="#111" stroke-width="1.2" />
<line x1="678.58" y1="478.20" x2="678.58" y2="481.00" stroke="#111" stroke-width="1.2" />
<text x="482.22" y="493.20" font-size="10.3" text-anchor="middle" font-weight="normal" font-style="normal" fill="#000" >0.2</text>
<text x="524.51" y="493.20" font-size="10.3" text-anchor="middle" font-weight="normal" font-style="normal" fill="#000" >0.4</text>
<text x="549.24" y="493.20" font-size="10.3" text-anchor="middle" font-weight="normal" font-style="normal" fill="#000" >0.6</text>
<text x="566.79" y="493.20" font-size="10.3" text-anchor="middle" font-weight="normal" font-style="normal" fill="#000" >0.8</text>
<text x="580.40" y="493.20" font-size="10.3" text-anchor="middle" font-weight="normal" font-style="normal" fill="#000" >1</text>
<text x="622.68" y="493.20" font-size="10.3" text-anchor="middle" font-weight="normal" font-style="normal" fill="#000" >2</text>
<text x="647.42" y="493.20" font-size="10.3" text-anchor="middle" font-weight="normal" font-style="normal" fill="#000" >3</text>
<text x="664.96" y="493.20" font-size="10.3" text-anchor="middle" font-weight="normal" font-style="normal" fill="#000" >4</text>
<text x="678.58" y="493.20" font-size="10.3" text-anchor="middle" font-weight="normal" font-style="normal" fill="#000" >5</text>
<text x="582.60" y="511.90" font-size="12.7" text-anchor="middle" font-weight="normal" font-style="normal" fill="#000" >Heritability enrichment in</text>
<text x="582.40" y="524.60" font-size="12.7" text-anchor="middle" font-weight="normal" font-style="normal" fill="#000" >all introgressed variants</text>
<text x="682.50" y="462.50" font-size="9.9" text-anchor="end" font-weight="normal" font-style="normal" fill="#000" >*<tspan font-style="italic">P</tspan> &lt; 0.05</text>
<text x="682.00" y="474.20" font-size="9.9" text-anchor="end" font-weight="normal" font-style="normal" fill="#000" >**<tspan font-style="italic">q</tspan> &lt; 0.05</text>
<text x="526.20" y="562.70" font-size="12.6" text-anchor="middle" font-weight="normal" font-style="normal" fill="#000" >Trait domain</text>
<line x1="378.00" y1="567.30" x2="681.00" y2="567.30" stroke="#111" stroke-width="1.5" />
<rect x="378.00" y="578.70" width="7.70" height="7.50" fill="#b22222" />
<text x="389.70" y="585.70" font-size="9.9" text-anchor="start" font-weight="normal" font-style="normal" fill="#000" >Immunological</text>
<rect x="378.00" y="593.25" width="7.70" height="7.50" fill="#ebc34b" />
<text x="389.70" y="600.25" font-size="9.9" text-anchor="start" font-weight="normal" font-style="normal" fill="#000" >Dermatological</text>
<rect x="378.00" y="607.80" width="7.70" height="7.50" fill="#8b008b" />
<text x="389.70" y="614.80" font-size="9.9" text-anchor="start" font-weight="normal" font-style="normal" fill="#000" >Reproduction</text>
<rect x="378.00" y="622.35" width="7.70" height="7.50" fill="#87cefa" />
<text x="389.70" y="629.35" font-size="9.9" text-anchor="start" font-weight="normal" font-style="normal" fill="#000" >Respiratory</text>
<rect x="378.00" y="636.90" width="7.70" height="7.50" fill="#ff6347" />
<text x="389.70" y="643.90" font-size="9.9" text-anchor="start" font-weight="normal" font-style="normal" fill="#000" >Cardiovascular</text>
<rect x="378.00" y="651.45" width="7.70" height="7.50" fill="#228b22" />
<text x="389.70" y="658.45" font-size="9.9" text-anchor="start" font-weight="normal" font-style="normal" fill="#000" >Skeletal</text>
<rect x="378.00" y="666.00" width="7.70" height="7.50" fill="#006400" />
<text x="389.70" y="673.00" font-size="9.9" text-anchor="start" font-weight="normal" font-style="normal" fill="#000" >Body Structures<tspan font-size="6.5" dy="-4">&#8224;</tspan></text>
<rect x="486.00" y="578.70" width="7.70" height="7.50" fill="#2b45a3" />
<text x="497.70" y="585.70" font-size="9.9" text-anchor="start" font-weight="normal" font-style="normal" fill="#000" >Psychiatric</text>
<rect x="486.00" y="593.25" width="7.70" height="7.50" fill="#4b0082" />
<text x="497.70" y="600.25" font-size="9.9" text-anchor="start" font-weight="normal" font-style="normal" fill="#000" >Neurological<tspan font-size="6.5" dy="-4">&#8224;</tspan></text>
<rect x="486.00" y="607.80" width="7.70" height="7.50" fill="#4169e1" />
<text x="497.70" y="614.80" font-size="9.9" text-anchor="start" font-weight="normal" font-style="normal" fill="#000" >Cognitive<tspan font-size="6.5" dy="-4">&#8224;</tspan></text>
<rect x="486.00" y="622.35" width="7.70" height="7.50" fill="#ff7f0e" />
<text x="497.70" y="629.35" font-size="9.9" text-anchor="start" font-weight="normal" font-style="normal" fill="#000" >Metabolic</text>
<rect x="486.00" y="636.90" width="7.70" height="7.50" fill="#d2691e" />
<text x="497.70" y="643.90" font-size="9.9" text-anchor="start" font-weight="normal" font-style="normal" fill="#000" >Endocrine</text>
<rect x="486.00" y="651.45" width="7.70" height="7.50" fill="#8b4513" />
<text x="497.70" y="658.45" font-size="9.9" text-anchor="start" font-weight="normal" font-style="normal" fill="#000" >Gastrointestinal</text>
<rect x="486.00" y="666.00" width="7.70" height="7.50" fill="#a0522d" />
<text x="497.70" y="673.00" font-size="9.9" text-anchor="start" font-weight="normal" font-style="normal" fill="#000" >Nutritional<tspan font-size="6.5" dy="-4">&#8224;</tspan></text>
<rect x="582.60" y="579.50" width="7.70" height="7.50" fill="#8b0000" />
<text x="594.50" y="586.50" font-size="9.9" text-anchor="start" font-weight="normal" font-style="normal" fill="#000" >Muscular<tspan font-size="6.5" dy="-4">&#8224;</tspan></text>
<rect x="582.60" y="594.05" width="7.70" height="7.50" fill="#4d4d4d" />
<text x="594.50" y="601.05" font-size="9.9" text-anchor="start" font-weight="normal" font-style="normal" fill="#000" >Environment</text>
<rect x="582.60" y="608.60" width="7.70" height="7.50" fill="#808080" />
<text x="594.50" y="615.60" font-size="9.9" text-anchor="start" font-weight="normal" font-style="normal" fill="#000" >Activities<tspan font-size="6.5" dy="-4">&#8224;</tspan></text>
<rect x="582.60" y="623.15" width="7.70" height="7.50" fill="#d3d3d3" />
<text x="594.50" y="630.15" font-size="9.9" text-anchor="start" font-weight="normal" font-style="normal" fill="#000" >Social Interactions<tspan font-size="6.5" dy="-4">&#8224;</tspan></text>
<rect x="582.60" y="637.70" width="7.70" height="7.50" fill="#333333" />
<text x="594.50" y="644.70" font-size="9.9" text-anchor="start" font-weight="normal" font-style="normal" fill="#000" >Mortality<tspan font-size="6.5" dy="-4">&#8224;</tspan></text>
<rect x="582.60" y="652.25" width="7.70" height="7.50" fill="#ffb6c1" />
<text x="594.50" y="659.25" font-size="9.9" text-anchor="start" font-weight="normal" font-style="normal" fill="#000" >Ophthalmological<tspan font-size="6.5" dy="-4">&#8224;</tspan></text>
<rect x="582.60" y="666.80" width="7.70" height="7.50" fill="#ffc0cb" />
<text x="594.50" y="673.80" font-size="9.9" text-anchor="start" font-weight="normal" font-style="normal" fill="#000" >Ear, Nose, Throat<tspan font-size="6.5" dy="-4">&#8224;</tspan></text>
<text x="-1.30" y="334.80" font-size="18.5" text-anchor="start" font-weight="bold" font-style="normal" fill="#000" >D</text>
<path d="M59.5 634.0 L59.5 384.8 L310.7 384.8 Z" fill="#d9d9d9"/>
<line x1="184.70" y1="331.50" x2="184.70" y2="634.00" stroke="#666" stroke-width="1.4" stroke-dasharray="2.2 1.8"/>
<line x1="59.50" y1="509.40" x2="365.00" y2="509.40" stroke="#333" stroke-width="1" stroke-dasharray="3 2"/>
<rect x="72.04" y="372.10" width="28.38" height="6.10" fill="#d9d9d9" stroke="#bdbdbd" stroke-width="0.6"/>
<rect x="100.42" y="372.20" width="20.14" height="6.00" fill="#d9d9d9" stroke="#bdbdbd" stroke-width="0.6"/>
<rect x="120.56" y="366.20" width="15.62" height="12.00" fill="#d9d9d9" stroke="#bdbdbd" stroke-width="0.6"/>
<rect x="136.18" y="342.50" width="12.76" height="35.70" fill="#d9d9d9" stroke="#bdbdbd" stroke-width="0.6"/>
<rect x="148.94" y="354.20" width="10.79" height="24.00" fill="#d9d9d9" stroke="#bdbdbd" stroke-width="0.6"/>
<rect x="159.73" y="337.00" width="9.35" height="41.20" fill="#d9d9d9" stroke="#bdbdbd" stroke-width="0.6"/>
<rect x="169.08" y="366.10" width="8.24" height="12.10" fill="#d9d9d9" stroke="#bdbdbd" stroke-width="0.6"/>
<rect x="177.32" y="331.10" width="7.38" height="47.10" fill="#d9d9d9" stroke="#bdbdbd" stroke-width="0.6"/>
<rect x="184.70" y="367.00" width="28.38" height="11.20" fill="#d9d9d9" stroke="#bdbdbd" stroke-width="0.6"/>
<rect x="317.8" y="432.94" width="1.90" height="28.22" fill="#d9d9d9" stroke="#bdbdbd" stroke-width="0.6"/>
<rect x="317.8" y="461.16" width="13.90" height="20.02" fill="#d9d9d9" stroke="#bdbdbd" stroke-width="0.6"/>
<rect x="317.8" y="481.18" width="13.90" height="28.22" fill="#d9d9d9" stroke="#bdbdbd" stroke-width="0.6"/>
<rect x="317.8" y="509.40" width="30.80" height="7.33" fill="#d9d9d9" stroke="#bdbdbd" stroke-width="0.6"/>
<rect x="317.8" y="516.73" width="47.00" height="8.20" fill="#d9d9d9" stroke="#bdbdbd" stroke-width="0.6"/>
<rect x="317.8" y="534.22" width="14.70" height="10.73" fill="#d9d9d9" stroke="#bdbdbd" stroke-width="0.6"/>
<rect x="317.8" y="544.95" width="7.00" height="12.69" fill="#d9d9d9" stroke="#bdbdbd" stroke-width="0.6"/>
<rect x="317.8" y="557.64" width="6.50" height="15.53" fill="#d9d9d9" stroke="#bdbdbd" stroke-width="0.6"/>
<rect x="317.8" y="573.17" width="4.80" height="20.02" fill="#d9d9d9" stroke="#bdbdbd" stroke-width="0.6"/>
<line x1="317.80" y1="509.40" x2="365.00" y2="509.40" stroke="#333" stroke-width="1" stroke-dasharray="3 2"/>
<line x1="184.70" y1="331.50" x2="184.70" y2="378.20" stroke="#666" stroke-width="1.4" stroke-dasharray="2.2 1.8"/>
<line x1="167.40" y1="350.00" x2="167.40" y2="378.20" stroke="#b22222" stroke-width="1.8" />
<line x1="317.50" y1="508.80" x2="332.80" y2="508.80" stroke="#b22222" stroke-width="1.8" />
<path d="M59.50 375.10 C60.38 375.02 62.47 374.85 64.80 374.60 C67.13 374.35 70.58 373.93 73.50 373.60 C76.42 373.27 79.38 372.98 82.30 372.60 C85.22 372.22 88.08 371.78 91.00 371.30 C93.92 370.82 96.88 370.25 99.80 369.70 C102.72 369.15 105.33 368.87 108.50 368.00 C111.67 367.13 115.63 365.73 118.80 364.50 C121.97 363.27 124.58 361.98 127.50 360.60 C130.42 359.22 133.38 357.58 136.30 356.20 C139.22 354.82 142.08 353.42 145.00 352.30 C147.92 351.18 150.88 350.13 153.80 349.50 C156.72 348.87 159.90 348.60 162.50 348.50 C165.10 348.40 167.52 348.63 169.40 348.90 C171.28 349.17 172.35 349.58 173.80 350.10 C175.25 350.62 176.65 351.22 178.10 352.00 C179.55 352.78 181.03 353.78 182.50 354.80 C183.97 355.82 185.43 356.88 186.90 358.10 C188.37 359.32 189.85 360.93 191.30 362.10 C192.75 363.27 194.15 364.27 195.60 365.10 C197.05 365.93 198.53 366.58 200.00 367.10 C201.47 367.62 202.93 367.77 204.40 368.20 C205.87 368.63 207.33 369.12 208.80 369.70 C210.27 370.28 211.57 370.93 213.20 371.70 C214.83 372.47 216.95 373.55 218.60 374.30 C220.25 375.05 221.62 375.70 223.10 376.20 C224.58 376.70 226.03 377.03 227.50 377.30 C228.97 377.57 230.43 377.68 231.90 377.80 C233.37 377.92 234.62 377.93 236.30 378.00 C237.98 378.07 229.75 378.17 242.00 378.20 C254.25 378.23 298.50 378.20 309.80 378.20" fill="none" stroke="#000" stroke-width="2.3" stroke-linejoin="round"/>
<path d="M317.60 384.70 L317.81 386.26 L317.98 387.83 L318.13 389.39 L318.25 390.95 L318.35 392.52 L318.43 394.08 L318.49 395.64 L318.53 397.21 L318.55 398.77 L318.56 400.34 L318.56 401.90 L318.55 403.46 L318.53 405.03 L318.50 406.59 L318.47 408.15 L318.43 409.72 L318.39 411.28 L318.35 412.84 L318.31 414.41 L318.28 415.97 L318.25 417.53 L318.22 419.10 L318.21 420.66 L318.21 422.22 L318.22 423.79 L318.24 425.35 L318.28 426.92 L318.34 428.48 L318.41 430.04 L318.51 431.61 L318.63 433.17 L318.77 434.73 L318.93 436.30 L319.11 437.86 L319.32 439.42 L319.54 440.99 L319.79 442.55 L320.05 444.11 L320.34 445.68 L320.65 447.24 L320.98 448.80 L321.33 450.37 L321.70 451.93 L322.09 453.49 L322.49 455.06 L322.90 456.62 L323.33 458.19 L323.77 459.75 L324.22 461.31 L324.67 462.88 L325.13 464.44 L325.59 466.00 L326.06 467.57 L326.53 469.13 L326.99 470.69 L327.45 472.26 L327.91 473.82 L328.36 475.38 L328.80 476.95 L329.23 478.51 L329.66 480.07 L330.07 481.64 L330.46 483.20 L330.84 484.77 L331.20 486.33 L331.54 487.89 L331.86 489.46 L332.15 491.02 L332.42 492.58 L332.67 494.15 L332.88 495.71 L333.07 497.27 L333.23 498.84 L333.37 500.40 L333.48 501.96 L333.56 503.53 L333.62 505.09 L333.66 506.65 L333.67 508.22 L333.66 509.78 L333.64 511.35 L333.59 512.91 L333.52 514.47 L333.44 516.04 L333.34 517.60 L333.22 519.16 L333.09 520.73 L332.94 522.29 L332.78 523.85 L332.60 525.42 L332.42 526.98 L332.22 528.54 L332.01 530.11 L331.80 531.67 L331.57 533.23 L331.34 534.80 L331.10 536.36 L330.86 537.93 L330.61 539.49 L330.35 541.05 L330.10 542.62 L329.84 544.18 L329.57 545.74 L329.31 547.31 L329.05 548.87 L328.79 550.43 L328.53 552.00 L328.28 553.56 L328.03 555.12 L327.78 556.69 L327.54 558.25 L327.30 559.81 L327.07 561.38 L326.85 562.94 L326.63 564.51 L326.42 566.07 L326.21 567.63 L326.01 569.20 L325.82 570.76 L325.63 572.32 L325.45 573.89 L325.27 575.45 L325.10 577.01 L324.93 578.58 L324.77 580.14 L324.61 581.70 L324.46 583.27 L324.32 584.83 L324.18 586.39 L324.05 587.96 L323.92 589.52 L323.80 591.08 L323.68 592.65 L323.56 594.21 L323.46 595.78 L323.35 597.34 L323.25 598.90 L323.16 600.47 L323.07 602.03 L322.99 603.59 L322.91 605.16 L322.83 606.72 L322.76 608.28 L322.70 609.85 L322.64 611.41 L322.58 612.97 L322.53 614.54 L322.48 616.10 L322.44 617.66 L322.40 619.23 L322.37 620.79 L322.34 622.36 L322.31 623.92 L322.29 625.48 L322.28 627.05 L322.26 628.61 L322.25 630.17 L322.25 631.74 L322.25 633.30" fill="none" stroke="#000" stroke-width="2.3" stroke-linejoin="round"/>
<line x1="59.50" y1="378.20" x2="309.80" y2="378.20" stroke="#111" stroke-width="1.5" />
<line x1="72.04" y1="378.20" x2="72.04" y2="380.80" stroke="#111" stroke-width="1.1" />
<line x1="100.42" y1="378.20" x2="100.42" y2="380.80" stroke="#111" stroke-width="1.1" />
<line x1="120.56" y1="378.20" x2="120.56" y2="380.80" stroke="#111" stroke-width="1.1" />
<line x1="136.18" y1="378.20" x2="136.18" y2="380.80" stroke="#111" stroke-width="1.1" />
<line x1="148.94" y1="378.20" x2="148.94" y2="380.80" stroke="#111" stroke-width="1.1" />
<line x1="159.73" y1="378.20" x2="159.73" y2="380.80" stroke="#111" stroke-width="1.1" />
<line x1="169.08" y1="378.20" x2="169.08" y2="380.80" stroke="#111" stroke-width="1.1" />
<line x1="177.32" y1="378.20" x2="177.32" y2="380.80" stroke="#111" stroke-width="1.1" />
<line x1="184.70" y1="378.20" x2="184.70" y2="380.80" stroke="#111" stroke-width="1.1" />
<line x1="233.22" y1="378.20" x2="233.22" y2="380.80" stroke="#111" stroke-width="1.1" />
<line x1="261.60" y1="378.20" x2="261.60" y2="380.80" stroke="#111" stroke-width="1.1" />
<line x1="281.74" y1="378.20" x2="281.74" y2="380.80" stroke="#111" stroke-width="1.1" />
<line x1="297.36" y1="378.20" x2="297.36" y2="380.80" stroke="#111" stroke-width="1.1" />
<line x1="309.80" y1="378.20" x2="309.80" y2="380.80" stroke="#111" stroke-width="1.1" />
<line x1="317.80" y1="384.80" x2="317.80" y2="634.00" stroke="#111" stroke-width="1.5" />
<line x1="315.50" y1="621.42" x2="317.80" y2="621.42" stroke="#111" stroke-width="1.1" />
<line x1="315.50" y1="593.20" x2="317.80" y2="593.20" stroke="#111" stroke-width="1.1" />
<line x1="315.50" y1="573.17" x2="317.80" y2="573.17" stroke="#111" stroke-width="1.1" />
<line x1="315.50" y1="557.64" x2="317.80" y2="557.64" stroke="#111" stroke-width="1.1" />
<line x1="315.50" y1="544.95" x2="317.80" y2="544.95" stroke="#111" stroke-width="1.1" />
<line x1="315.50" y1="534.22" x2="317.80" y2="534.22" stroke="#111" stroke-width="1.1" />
<line x1="315.50" y1="524.93" x2="317.80" y2="524.93" stroke="#111" stroke-width="1.1" />
<line x1="315.50" y1="516.73" x2="317.80" y2="516.73" stroke="#111" stroke-width="1.1" />
<line x1="315.50" y1="509.40" x2="317.80" y2="509.40" stroke="#111" stroke-width="1.1" />
<line x1="315.50" y1="461.16" x2="317.80" y2="461.16" stroke="#111" stroke-width="1.1" />
<line x1="315.50" y1="432.94" x2="317.80" y2="432.94" stroke="#111" stroke-width="1.1" />
<line x1="315.50" y1="412.91" x2="317.80" y2="412.91" stroke="#111" stroke-width="1.1" />
<line x1="315.50" y1="397.38" x2="317.80" y2="397.38" stroke="#111" stroke-width="1.1" />
<line x1="136.00" y1="397.20" x2="220.20" y2="414.10" stroke="#c87474" stroke-width="1.2" />
<text x="134.60" y="400.70" font-size="9.9" text-anchor="end" font-weight="normal" font-style="normal" fill="#000" >AutoimmuneDz</text>
<line x1="136.00" y1="410.50" x2="203.00" y2="452.70" stroke="#f0d27a" stroke-width="1.2" />
<text x="134.60" y="414.00" font-size="9.9" text-anchor="end" font-weight="normal" font-style="normal" fill="#000" >Balding</text>
<line x1="136.00" y1="424.40" x2="199.30" y2="454.30" stroke="#b25ab2" stroke-width="1.2" />
<text x="134.60" y="427.90" font-size="9.9" text-anchor="end" font-weight="normal" font-style="normal" fill="#000" >MenopauseAge</text>
<line x1="136.00" y1="439.60" x2="202.70" y2="458.50" stroke="#f0d27a" stroke-width="1.2" />
<text x="134.60" y="443.10" font-size="9.9" text-anchor="end" font-weight="normal" font-style="normal" fill="#000" >Sunburn</text>
<line x1="136.00" y1="453.50" x2="188.30" y2="467.90" stroke="#a8dcf8" stroke-width="1.2" />
<text x="134.60" y="457.00" font-size="9.9" text-anchor="end" font-weight="normal" font-style="normal" fill="#000" >FVC</text>
<line x1="136.00" y1="467.40" x2="182.70" y2="469.30" stroke="#5aa85a" stroke-width="1.2" />
<text x="134.60" y="470.90" font-size="9.9" text-anchor="end" font-weight="normal" font-style="normal" fill="#000" >Heel_T_Score</text>
<line x1="136.00" y1="481.20" x2="184.60" y2="475.70" stroke="#6678b8" stroke-width="1.2" />
<text x="134.60" y="484.70" font-size="9.9" text-anchor="end" font-weight="normal" font-style="normal" fill="#000" >MorningPerson</text>
<line x1="136.00" y1="496.00" x2="179.40" y2="480.40" stroke="#c87474" stroke-width="1.2" />
<text x="134.60" y="499.50" font-size="9.9" text-anchor="end" font-weight="normal" font-style="normal" fill="#000" >WBCCount</text>
<circle cx="220.20" cy="414.10" r="2.6" fill="#b22222"/>
<circle cx="199.30" cy="454.30" r="2.6" fill="#8b008b"/>
<circle cx="203.00" cy="452.70" r="2.6" fill="#ebc34b"/>
<circle cx="202.70" cy="458.50" r="2.6" fill="#ebc34b"/>
<circle cx="209.10" cy="465.20" r="2.6" fill="#ebc34b"/>
<circle cx="188.30" cy="463.20" r="2.6" fill="#ebc34b"/>
<circle cx="205.50" cy="470.20" r="2.6" fill="#ebc34b"/>
<circle cx="186.30" cy="479.30" r="2.6" fill="#ebc34b"/>
<circle cx="188.30" cy="467.90" r="2.6" fill="#87cefa"/>
<circle cx="182.70" cy="469.30" r="2.6" fill="#228b22"/>
<circle cx="184.60" cy="475.70" r="2.6" fill="#2b45a3"/>
<circle cx="179.40" cy="480.40" r="2.6" fill="#b22222"/>
<circle cx="181.90" cy="491.00" r="2.6" fill="#87cefa"/>
<circle cx="178.50" cy="496.50" r="2.6" fill="#ebc34b"/>
<circle cx="180.50" cy="501.50" r="2.6" fill="#b22222"/>
<circle cx="211.80" cy="522.00" r="2.6" fill="#2b45a3"/>
<circle cx="181.30" cy="518.10" r="2.6" fill="#b22222"/>
<circle cx="143.60" cy="502.50" r="2.6" fill="#8b4513"/>
<circle cx="160.60" cy="496.60" r="2.6" fill="#ff7f0e"/>
<circle cx="165.50" cy="496.60" r="2.6" fill="#d2691e"/>
<circle cx="164.10" cy="501.00" r="2.6" fill="#2b45a3"/>
<circle cx="164.10" cy="502.50" r="2.6" fill="#87cefa"/>
<circle cx="170.80" cy="507.40" r="2.6" fill="#228b22"/>
<circle cx="172.60" cy="512.00" r="2.6" fill="#8b008b"/>
<circle cx="146.60" cy="514.10" r="2.6" fill="#8b4513"/>
<circle cx="156.80" cy="515.50" r="2.6" fill="#555555"/>
<circle cx="153.30" cy="519.30" r="2.6" fill="#ff6347"/>
<circle cx="162.30" cy="517.60" r="2.6" fill="#2b45a3"/>
<circle cx="164.40" cy="517.60" r="2.6" fill="#8b008b"/>
<circle cx="141.30" cy="524.30" r="2.6" fill="#d2691e"/>
<circle cx="142.10" cy="536.10" r="2.6" fill="#228b22"/>
<circle cx="148.20" cy="536.10" r="2.6" fill="#b22222"/>
<circle cx="160.30" cy="552.90" r="2.6" fill="#2b45a3"/>
<circle cx="134.60" cy="561.10" r="2.6" fill="#8b008b"/>
<circle cx="124.90" cy="590.20" r="2.6" fill="#ff7f0e"/>
<circle cx="76.70" cy="629.90" r="2.6" fill="#ff7f0e"/>
<circle cx="113.10" cy="629.90" r="2.6" fill="#ff7f0e"/>
<circle cx="138.20" cy="629.90" r="2.6" fill="#2b45a3"/>
<circle cx="154.00" cy="629.90" r="2.6" fill="#2b45a3"/>
<rect x="59.5" y="384.8" width="251.2" height="249.2" fill="none" stroke="#111" stroke-width="1.5"/>
<line x1="72.04" y1="634.00" x2="72.04" y2="636.60" stroke="#111" stroke-width="1.1" />
<line x1="56.90" y1="621.42" x2="59.50" y2="621.42" stroke="#111" stroke-width="1.1" />
<line x1="100.42" y1="634.00" x2="100.42" y2="636.60" stroke="#111" stroke-width="1.1" />
<line x1="56.90" y1="593.20" x2="59.50" y2="593.20" stroke="#111" stroke-width="1.1" />
<line x1="120.56" y1="634.00" x2="120.56" y2="636.60" stroke="#111" stroke-width="1.1" />
<line x1="56.90" y1="573.17" x2="59.50" y2="573.17" stroke="#111" stroke-width="1.1" />
<line x1="136.18" y1="634.00" x2="136.18" y2="636.60" stroke="#111" stroke-width="1.1" />
<line x1="56.90" y1="557.64" x2="59.50" y2="557.64" stroke="#111" stroke-width="1.1" />
<line x1="148.94" y1="634.00" x2="148.94" y2="636.60" stroke="#111" stroke-width="1.1" />
<line x1="56.90" y1="544.95" x2="59.50" y2="544.95" stroke="#111" stroke-width="1.1" />
<line x1="159.73" y1="634.00" x2="159.73" y2="636.60" stroke="#111" stroke-width="1.1" />
<line x1="56.90" y1="534.22" x2="59.50" y2="534.22" stroke="#111" stroke-width="1.1" />
<line x1="169.08" y1="634.00" x2="169.08" y2="636.60" stroke="#111" stroke-width="1.1" />
<line x1="56.90" y1="524.93" x2="59.50" y2="524.93" stroke="#111" stroke-width="1.1" />
<line x1="177.32" y1="634.00" x2="177.32" y2="636.60" stroke="#111" stroke-width="1.1" />
<line x1="56.90" y1="516.73" x2="59.50" y2="516.73" stroke="#111" stroke-width="1.1" />
<line x1="184.70" y1="634.00" x2="184.70" y2="636.60" stroke="#111" stroke-width="1.1" />
<line x1="56.90" y1="509.40" x2="59.50" y2="509.40" stroke="#111" stroke-width="1.1" />
<line x1="233.22" y1="634.00" x2="233.22" y2="636.60" stroke="#111" stroke-width="1.1" />
<line x1="56.90" y1="461.16" x2="59.50" y2="461.16" stroke="#111" stroke-width="1.1" />
<line x1="261.60" y1="634.00" x2="261.60" y2="636.60" stroke="#111" stroke-width="1.1" />
<line x1="56.90" y1="432.94" x2="59.50" y2="432.94" stroke="#111" stroke-width="1.1" />
<line x1="281.74" y1="634.00" x2="281.74" y2="636.60" stroke="#111" stroke-width="1.1" />
<line x1="56.90" y1="412.91" x2="59.50" y2="412.91" stroke="#111" stroke-width="1.1" />
<line x1="297.36" y1="634.00" x2="297.36" y2="636.60" stroke="#111" stroke-width="1.1" />
<line x1="56.90" y1="397.38" x2="59.50" y2="397.38" stroke="#111" stroke-width="1.1" />
<text x="72.04" y="648.60" font-size="10.3" text-anchor="middle" font-weight="normal" font-style="normal" fill="#000" >0.2</text>
<text x="52.00" y="624.32" font-size="10.3" text-anchor="end" font-weight="normal" font-style="normal" fill="#000" >0.2</text>
<text x="120.56" y="648.60" font-size="10.3" text-anchor="middle" font-weight="normal" font-style="normal" fill="#000" >0.4</text>
<text x="52.00" y="576.07" font-size="10.3" text-anchor="end" font-weight="normal" font-style="normal" fill="#000" >0.4</text>
<text x="148.94" y="648.60" font-size="10.3" text-anchor="middle" font-weight="normal" font-style="normal" fill="#000" >0.6</text>
<text x="52.00" y="547.85" font-size="10.3" text-anchor="end" font-weight="normal" font-style="normal" fill="#000" >0.6</text>
<text x="169.08" y="648.60" font-size="10.3" text-anchor="middle" font-weight="normal" font-style="normal" fill="#000" >0.8</text>
<text x="52.00" y="527.83" font-size="10.3" text-anchor="end" font-weight="normal" font-style="normal" fill="#000" >0.8</text>
<text x="184.70" y="648.60" font-size="10.3" text-anchor="middle" font-weight="normal" font-style="normal" fill="#000" >1</text>
<text x="52.00" y="512.30" font-size="10.3" text-anchor="end" font-weight="normal" font-style="normal" fill="#000" >1</text>
<text x="233.22" y="648.60" font-size="10.3" text-anchor="middle" font-weight="normal" font-style="normal" fill="#000" >2</text>
<text x="52.00" y="464.06" font-size="10.3" text-anchor="end" font-weight="normal" font-style="normal" fill="#000" >2</text>
<text x="261.60" y="648.60" font-size="10.3" text-anchor="middle" font-weight="normal" font-style="normal" fill="#000" >3</text>
<text x="52.00" y="435.84" font-size="10.3" text-anchor="end" font-weight="normal" font-style="normal" fill="#000" >3</text>
<text x="281.74" y="648.60" font-size="10.3" text-anchor="middle" font-weight="normal" font-style="normal" fill="#000" >4</text>
<text x="52.00" y="415.81" font-size="10.3" text-anchor="end" font-weight="normal" font-style="normal" fill="#000" >4</text>
<text x="297.36" y="648.60" font-size="10.3" text-anchor="middle" font-weight="normal" font-style="normal" fill="#000" >5</text>
<text x="52.00" y="400.28" font-size="10.3" text-anchor="end" font-weight="normal" font-style="normal" fill="#000" >5</text>
<text x="183.60" y="666.20" font-size="12.8" text-anchor="middle" font-weight="normal" font-style="normal" fill="#000" >Heritability enrichment in</text>
<text x="185.20" y="677.90" font-size="12.7" text-anchor="middle" font-weight="bold" font-style="normal" fill="#111" >all introgressed variants</text>
<text x="0.00" y="0.00" font-size="12.7" text-anchor="middle" font-weight="normal" font-style="normal" fill="#000" transform="translate(13.9 510.4) rotate(-90)">Heritability enrichment in</text>
<text x="0.00" y="0.00" font-size="12.7" text-anchor="middle" font-weight="normal" font-style="normal" fill="#000" transform="translate(26.6 509.4) rotate(-90)"><tspan font-weight="bold">Altai-matching</tspan> introgressed variants</text>
</svg>
</body></html>
